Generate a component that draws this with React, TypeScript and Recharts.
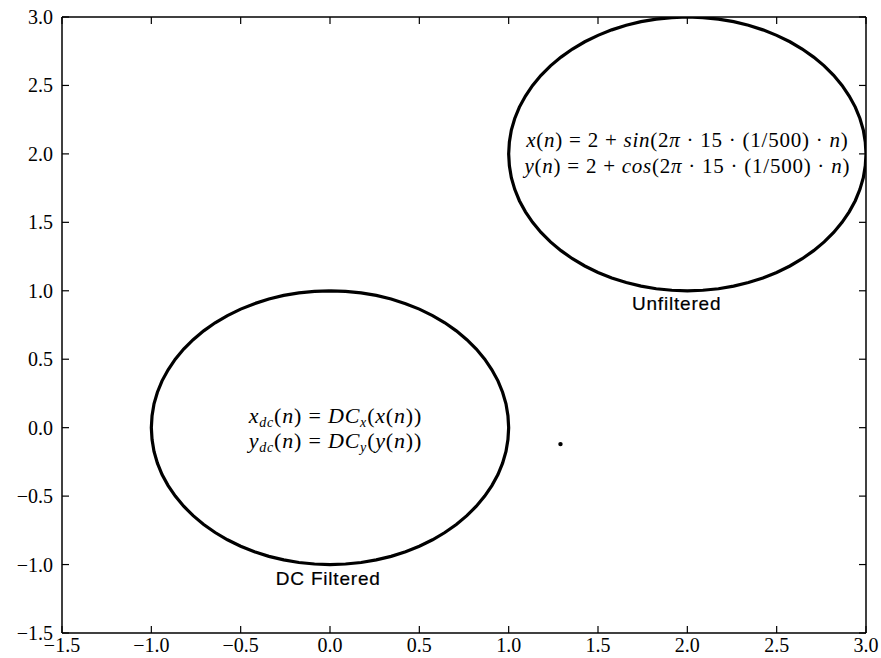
import { ComposedChart, Line, Scatter, XAxis, YAxis, ReferenceDot } from "recharts";

// values: a point every 5 degrees round each loop
const unfilteredX = [
  2, 2.087, 2.174, 2.259, 2.342, 2.423, 2.5, 2.574, 2.643, 2.707, 2.766, 2.819, 2.866, 2.906, 2.94, 2.966, 2.985, 2.996, 3,
  2.996, 2.985, 2.966, 2.94, 2.906, 2.866, 2.819, 2.766, 2.707, 2.643, 2.574, 2.5, 2.423, 2.342, 2.259, 2.174, 2.087, 2,
  1.913, 1.826, 1.741, 1.658, 1.577, 1.5, 1.426, 1.357, 1.293, 1.234, 1.181, 1.134, 1.094, 1.06, 1.034, 1.015, 1.004, 1,
  1.004, 1.015, 1.034, 1.06, 1.094, 1.134, 1.181, 1.234, 1.293, 1.357, 1.426, 1.5, 1.577, 1.658, 1.741, 1.826, 1.913, 2,
];
const unfilteredY = [
  3, 2.996, 2.985, 2.966, 2.94, 2.906, 2.866, 2.819, 2.766, 2.707, 2.643, 2.574, 2.5, 2.423, 2.342, 2.259, 2.174, 2.087, 2,
  1.913, 1.826, 1.741, 1.658, 1.577, 1.5, 1.426, 1.357, 1.293, 1.234, 1.181, 1.134, 1.094, 1.06, 1.034, 1.015, 1.004, 1,
  1.004, 1.015, 1.034, 1.06, 1.094, 1.134, 1.181, 1.234, 1.293, 1.357, 1.426, 1.5, 1.577, 1.658, 1.741, 1.826, 1.913, 2,
  2.087, 2.174, 2.259, 2.342, 2.423, 2.5, 2.574, 2.643, 2.707, 2.766, 2.819, 2.866, 2.906, 2.94, 2.966, 2.985, 2.996, 3,
];
const dcX = [
  0, 0.087, 0.174, 0.259, 0.342, 0.423, 0.5, 0.574, 0.643, 0.707, 0.766, 0.819, 0.866, 0.906, 0.94, 0.966, 0.985, 0.996, 1,
  0.996, 0.985, 0.966, 0.94, 0.906, 0.866, 0.819, 0.766, 0.707, 0.643, 0.574, 0.5, 0.423, 0.342, 0.259, 0.174, 0.087, 0,
  -0.087, -0.174, -0.259, -0.342, -0.423, -0.5, -0.574, -0.643, -0.707, -0.766, -0.819, -0.866, -0.906, -0.94, -0.966, -0.985, -0.996, -1,
  -0.996, -0.985, -0.966, -0.94, -0.906, -0.866, -0.819, -0.766, -0.707, -0.643, -0.574, -0.5, -0.423, -0.342, -0.259, -0.174, -0.087, 0,
];
const dcY = [
  1, 0.996, 0.985, 0.966, 0.94, 0.906, 0.866, 0.819, 0.766, 0.707, 0.643, 0.574, 0.5, 0.423, 0.342, 0.259, 0.174, 0.087, 0,
  -0.087, -0.174, -0.259, -0.342, -0.423, -0.5, -0.574, -0.643, -0.707, -0.766, -0.819, -0.866, -0.906, -0.94, -0.966, -0.985, -0.996, -1,
  -0.996, -0.985, -0.966, -0.94, -0.906, -0.866, -0.819, -0.766, -0.707, -0.643, -0.574, -0.5, -0.423, -0.342, -0.259, -0.174, -0.087, 0,
  0.087, 0.174, 0.259, 0.342, 0.423, 0.5, 0.574, 0.643, 0.707, 0.766, 0.819, 0.866, 0.906, 0.94, 0.966, 0.985, 0.996, 1,
];
const strayX = [1.29];
const strayY = [-0.12];

const axisTicks = [-1.5, -1.0, -0.5, 0.0, 0.5, 1.0, 1.5, 2.0, 2.5, 3.0];
const domain: [number, number] = [-1.5, 3.0];

const unfilteredLabel = "Unfiltered";
const dcLabel = "DC Filtered";

const serif = "'Liberation Serif', 'DejaVu Serif', serif";
const sans = "'Liberation Sans', Arial, sans-serif";
const TICK = 7;

const fmt = (v: number) => (v < 0 ? "\u2212" : "") + Math.abs(v).toFixed(1);

function LeftTick({ x, y, payload }: any) {
  return (
    <g>
      <line x1={x} y1={y} x2={x + TICK} y2={y} stroke="#000" strokeWidth={1.2} />
      <text x={x - 9} y={y} dy="0.35em" textAnchor="end" fontFamily={serif} fontSize={20} fill="#000">
        {fmt(payload.value)}
      </text>
    </g>
  );
}

function BottomTick({ x, y, payload }: any) {
  return (
    <g>
      <line x1={x} y1={y} x2={x} y2={y - TICK} stroke="#000" strokeWidth={1.2} />
      <text x={x} y={y + 19} textAnchor="middle" fontFamily={serif} fontSize={20} fill="#000">
        {fmt(payload.value)}
      </text>
    </g>
  );
}

function RightTick({ x, y }: any) {
  return <line x1={x} y1={y} x2={x - TICK} y2={y} stroke="#000" strokeWidth={1.2} />;
}

function TopTick({ x, y }: any) {
  return <line x1={x} y1={y} x2={x} y2={y + TICK} stroke="#000" strokeWidth={1.2} />;
}

const I = ({ children }: { children: any }) => <tspan fontStyle="italic">{children}</tspan>;

function UnfilteredFormula({ cx, cy }: any) {
  return (
    <g fontFamily={serif} fontSize={21} letterSpacing={0.75} fill="#000">
      <text x={cx} y={cy - 13} dy="0.35em" textAnchor="middle">
        <I>x</I>(<I>n</I>) = 2 + <I>sin</I>(2<I>π</I> · 15 · (1/500) · <I>n</I>)
      </text>
      <text x={cx} y={cy + 13} dy="0.35em" textAnchor="middle">
        <I>y</I>(<I>n</I>) = 2 + <I>cos</I>(2<I>π</I> · 15 · (1/500) · <I>n</I>)
      </text>
    </g>
  );
}

function DcFormula({ cx, cy }: any) {
  return (
    <g fontFamily={serif} fontSize={22} letterSpacing={0.8} fill="#000">
      <text x={cx} y={cy - 12.5} dy="0.35em" textAnchor="middle">
        <I>x</I>
        <tspan fontStyle="italic" fontSize={14} dy={4}>dc</tspan>
        <tspan dy={-4}>(</tspan><I>n</I>) = <I>DC</I>
        <tspan fontStyle="italic" fontSize={14} dy={4}>x</tspan>
        <tspan dy={-4}>(</tspan><I>x</I>(<I>n</I>))
      </text>
      <text x={cx} y={cy + 12.5} dy="0.35em" textAnchor="middle">
        <I>y</I>
        <tspan fontStyle="italic" fontSize={14} dy={4}>dc</tspan>
        <tspan dy={-4}>(</tspan><I>n</I>) = <I>DC</I>
        <tspan fontStyle="italic" fontSize={14} dy={4}>y</tspan>
        <tspan dy={-4}>(</tspan><I>y</I>(<I>n</I>))
      </text>
    </g>
  );
}

const caption = (label: string) => ({ cx, cy }: any) => (
  <text
    x={cx} y={cy} dy="0.35em" textAnchor="middle" fontFamily={sans} fontSize={19}
    letterSpacing={0.8} fill="#000" stroke="#000" strokeWidth={0.2}
  >
    {label}
  </text>
);

export default function App() {
  const unfiltered = unfilteredX.map((x, i) => ({ x, y: unfilteredY[i] }));
  const dcFiltered = dcX.map((x, i) => ({ x, y: dcY[i] }));
  const stray = strayX.map((x, i) => ({ x, y: strayY[i] }));

  return (
    <div style={{ position: "absolute", left: 0, top: 0, width: 881, height: 658, background: "#fff" }}>
      <ComposedChart width={881} height={658} margin={{ top: 0, right: 0, bottom: 0, left: 0 }}>
        <XAxis
          xAxisId="b" type="number" dataKey="x" domain={domain} ticks={axisTicks} interval={0}
          orientation="bottom" height={25} tickSize={0} tickMargin={0}
          axisLine={{ stroke: "#000", strokeWidth: 1.5 }} tickLine={false} tick={<BottomTick />} allowDataOverflow
        />
        <XAxis
          xAxisId="t" type="number" dataKey="x" domain={domain} ticks={axisTicks} interval={0}
          orientation="top" height={17} tickSize={0} tickMargin={0}
          axisLine={{ stroke: "#000", strokeWidth: 1.5 }} tickLine={false} tick={<TopTick />} allowDataOverflow
        />
        <YAxis
          yAxisId="l" type="number" domain={domain} ticks={axisTicks} interval={0}
          orientation="left" width={62} tickSize={0} tickMargin={0}
          axisLine={{ stroke: "#000", strokeWidth: 1.5 }} tickLine={false} tick={<LeftTick />} allowDataOverflow
        />
        <YAxis
          yAxisId="r" type="number" domain={domain} ticks={axisTicks} interval={0}
          orientation="right" width={15} tickSize={0} tickMargin={0}
          axisLine={{ stroke: "#000", strokeWidth: 1.5 }} tickLine={false} tick={<RightTick />} allowDataOverflow
        />
        <Line
          xAxisId="b" yAxisId="l" data={unfiltered} dataKey="y" type="linear"
          stroke="#000" strokeWidth={3.2} dot={false} isAnimationActive={false}
        />
        <Line
          xAxisId="b" yAxisId="l" data={dcFiltered} dataKey="y" type="linear"
          stroke="#000" strokeWidth={3.2} dot={false} isAnimationActive={false}
        />
        <Scatter
          xAxisId="b" yAxisId="l" data={stray} dataKey="y" fill="#000"
          shape={(p: any) => <circle cx={p.cx} cy={p.cy} r={2.2} fill="#000" />}
          isAnimationActive={false}
        />
        <ReferenceDot xAxisId="b" yAxisId="l" x={2} y={2.006} shape={UnfilteredFormula} />
        <ReferenceDot xAxisId="b" yAxisId="l" x={0.03} y={0} shape={DcFormula} />
        <ReferenceDot xAxisId="b" yAxisId="l" x={1.94} y={0.907} shape={caption(unfilteredLabel)} />
        <ReferenceDot xAxisId="b" yAxisId="l" x={-0.01} y={-1.098} shape={caption(dcLabel)} />
      </ComposedChart>
    </div>
  );
}
